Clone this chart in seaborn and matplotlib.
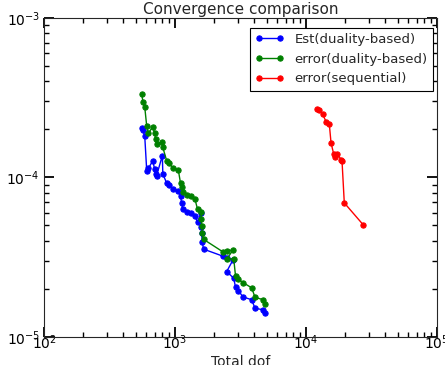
import pandas as pd
import numpy as np
import matplotlib
matplotlib.use("Agg")
import matplotlib.pyplot as plt
import seaborn as sns

# DATA

dofs_dual = [557, 570, 587, 608, 626, 676, 698, 710, 722, 800,
             807, 864, 892, 970, 1060, 1102, 1121, 1147, 1231, 1320,
             1421, 1485, 1579, 1588, 1596, 1613, 1650, 2337, 2481, 2772,
             2481, 2806, 2896, 3043, 3305, 3850, 4080, 4721, 4864]

est_dual = [2.03e-4, 1.97e-4, 1.82e-4, 1.10e-4, 1.14e-4, 1.27e-4, 1.13e-4, 1.05e-4, 1.02e-4, 1.37e-4,
            1.05e-4, 9.20e-5, 8.97e-5, 8.43e-5, 8.26e-5, 7.66e-5, 6.92e-5, 6.30e-5, 6.10e-5, 5.99e-5,
            5.76e-5, 5.22e-5, 6.02e-5, 4.89e-5, 4.47e-5, 3.96e-5, 3.55e-5, 3.20e-5, 3.11e-5, 3.04e-5,
            2.57e-5, 2.33e-5, 2.05e-5, 1.95e-5, 1.78e-5, 1.71e-5, 1.51e-5, 1.48e-5, 1.41e-5]

err_dual = [3.31e-4, 2.95e-4, 2.77e-4, 2.09e-4, 1.89e-4, 2.08e-4, 1.91e-4, 1.74e-4, 1.62e-4, 1.67e-4,
            1.54e-4, 1.27e-4, 1.23e-4, 1.14e-4, 1.11e-4, 9.17e-5, 8.72e-5, 8.11e-5, 7.77e-5, 7.60e-5,
            7.28e-5, 6.32e-5, 6.10e-5, 5.47e-5, 4.97e-5, 4.47e-5, 4.09e-5, 3.40e-5, 3.46e-5, 3.51e-5,
            3.07e-5, 3.09e-5, 2.41e-5, 2.30e-5, 2.19e-5, 2.03e-5, 1.77e-5, 1.71e-5, 1.61e-5]

dofs_seq = [12080, 12630, 13410, 14220, 15060, 15520, 16270, 16560, 17340, 18600,
            18830, 19600, 27360]

err_seq = [2.70e-4, 2.66e-4, 2.48e-4, 2.24e-4, 2.16e-4, 1.65e-4, 1.40e-4, 1.34e-4, 1.40e-4, 1.29e-4,
           1.27e-4, 6.92e-5, 5.04e-5]

labels = ["Est(duality-based)", "error(duality-based)", "error(sequential)"]
colors = ["#0000ff", "#008000", "#ff0000"]

# PLOT

sns.set_style("ticks")
# label padding set up front (changing pad later hid the tick marks)
plt.rcParams["xtick.major.pad"] = -2.5
plt.rcParams["ytick.major.pad"] = 3

fig = plt.figure(figsize=(4.45, 3.65), dpi=100)
ax = fig.add_axes([0.099, 0.077, 0.883, 0.874])

series = [
    (dofs_dual, est_dual),
    (dofs_dual, err_dual),
    (dofs_seq, err_seq),
]

for (xs, ys), label, color in zip(series, labels, colors):
    sns.lineplot(
        x=xs,
        y=ys,
        ax=ax,
        sort=False,
        estimator=None,
        color=color,
        marker="o",
        markersize=3.8,
        markeredgecolor=color,
        linewidth=1,
        label=label,
    )

ax.set_xscale("log")
ax.set_yscale("log")
ax.set_xlim(1e2, 1e5)
ax.set_ylim(1e-5, 1e-3)

# ticks on all four sides, pointing in
ax.tick_params(which="major", direction="in", length=7, width=1.3,
               colors="black", top=True, right=True, labelsize=10)
ax.tick_params(which="minor", direction="in", length=3.5, width=1.0,
               colors="black", top=True, right=True)

ax.set_title("Convergence comparison", fontsize=11, pad=3)
ax.set_xlabel("Total dof", fontsize=10, labelpad=2)

leg = ax.legend(
    loc="upper right",
    bbox_to_anchor=(0.990, 0.969),
    borderaxespad=0,
    fontsize=9.5,
    numpoints=2,
    fancybox=False,
    framealpha=1,
    edgecolor="black",
    handlelength=2.2,
)
leg.get_frame().set_linewidth(0.8)

fig.savefig("out.png", dpi=100, facecolor="white")
